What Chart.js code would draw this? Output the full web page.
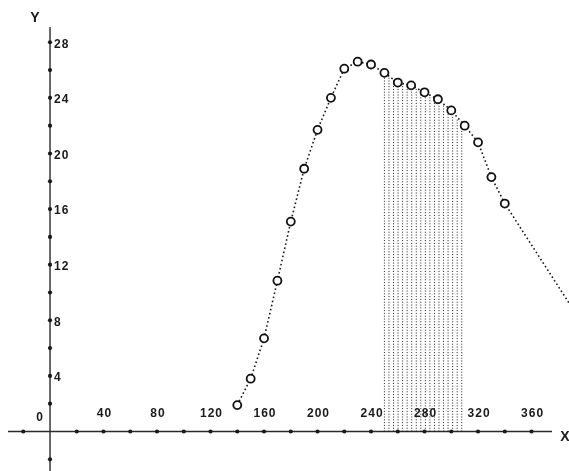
<!DOCTYPE html>
<html>
<head>
<meta charset="utf-8">
<script src="https://cdn.jsdelivr.net/npm/chart.js@4.4.1/dist/chart.umd.min.js"></script>
<style>
    html, body { margin: 0; padding: 0; background: #fff; overflow: hidden; }
    #wrap { width: 569px; height: 471px; position: relative; }
</style>
</head>
<body>
<div id="wrap"><canvas id="chart"></canvas></div>
<script>
// Measured points (x, y)
const xValues = [140, 150, 160, 170, 180, 190, 200, 210, 220, 230, 240, 250, 260, 270, 280, 290, 300, 310, 320, 330, 340];
const yValues = [1.9, 3.8, 6.7, 10.85, 15.1, 18.9, 21.7, 24.0, 26.1, 26.6, 26.4, 25.8, 25.1, 24.9, 24.4, 23.9, 23.1, 22.0, 20.8, 18.3, 16.4];

// Dotted curve running off the right edge
const tailX = [395];
const tailY = [8.2];

// Vertical hatch lines under the curve
const hatchX = [250, 253.4, 256.8, 260.2, 263.6, 267, 270.4, 273.8, 277.2, 280.6, 284, 287.4, 290.8, 294.2, 297.6, 301, 304.4, 307.8];
const hatchTop = [25.7, 25.5, 25.25, 25.1, 25.0, 24.9, 24.8, 24.65, 24.45, 24.3, 24.15, 23.95, 23.7, 23.45, 23.15, 22.8, 22.45, 22.1];

// Axis ticks and labels
const xTickDots = [-20, 20, 40, 60, 80, 100, 120, 140, 160, 180, 200, 220, 240, 260, 280, 300, 320, 340, 360];
const xTickLabels = [40, 80, 120, 160, 200, 240, 280, 320, 360];
const yTickDots = [-2, 2, 4, 6, 8, 10, 12, 14, 16, 18, 20, 22, 24, 26, 28];
const yTickLabels = [4, 8, 12, 16, 20, 24, 28];

const curveData = xValues.map((x, i) => ({ x: x, y: yValues[i] }))
    .concat(tailX.map((x, i) => ({ x: x, y: tailY[i] })));
const markerData = xValues.map((x, i) => ({ x: x, y: yValues[i] }));

const hatchData = [];
hatchX.forEach((x, i) => {
    hatchData.push({ x: x, y: 0 });
    hatchData.push({ x: x, y: hatchTop[i] });
    hatchData.push({ x: x, y: null });
});

// Draws the crossing axes, their dots and labels
const axesPlugin = {
    id: 'axesPlugin',
    beforeDatasetsDraw(chart) {
        const { ctx } = chart;
        const xs = chart.scales.x;
        const ys = chart.scales.y;
        const x0 = xs.getPixelForValue(0);
        const y0 = ys.getPixelForValue(0);

        ctx.save();
        ctx.strokeStyle = '#2a2a2a';
        ctx.lineWidth = 1.4;
        ctx.beginPath();
        ctx.moveTo(8, y0);
        ctx.lineTo(552, y0);
        ctx.moveTo(x0, 27);
        ctx.lineTo(x0, chart.height);
        ctx.stroke();

        ctx.fillStyle = '#1a1a1a';
        xTickDots.forEach(v => {
            ctx.beginPath();
            ctx.arc(xs.getPixelForValue(v), y0, 2.1, 0, Math.PI * 2);
            ctx.fill();
        });
        yTickDots.forEach(v => {
            ctx.beginPath();
            ctx.arc(x0, ys.getPixelForValue(v), 2.1, 0, Math.PI * 2);
            ctx.fill();
        });

        ctx.font = 'bold 12px "Liberation Sans", Arial, sans-serif';
        ctx.letterSpacing = '1px';
        ctx.textBaseline = 'middle';
        ctx.textAlign = 'center';
        xTickLabels.forEach(v => {
            ctx.fillText(String(v), xs.getPixelForValue(v) + 1, y0 - 18);
        });
        ctx.fillText('0', x0 - 10, y0 - 14);
        ctx.textAlign = 'left';
        yTickLabels.forEach(v => {
            ctx.fillText(String(v), x0 + 4, ys.getPixelForValue(v) + 2);
        });

        ctx.letterSpacing = '0px';
        ctx.font = 'bold 14px "Liberation Sans", Arial, sans-serif';
        ctx.textAlign = 'center';
        ctx.fillText('Y', 35, 18);
        ctx.fillText('X', 565, 437);
        ctx.restore();
    }
};

new Chart(document.getElementById('chart'), {
    type: 'line',
    data: {
        datasets: [
            {
                label: 'points',
                data: markerData,
                order: 0,
                showLine: false,
                pointRadius: 4,
                pointBorderWidth: 1.8,
                pointBackgroundColor: '#ffffff',
                pointBorderColor: '#111111'
            },
            {
                label: 'curve',
                data: curveData,
                order: 1,
                borderColor: '#1a1a1a',
                borderWidth: 1.6,
                borderDash: [1.6, 2.6],
                pointRadius: 0,
                tension: 0
            },
            {
                label: 'hatch',
                data: hatchData,
                order: 2,
                borderColor: '#1e1e1e',
                borderWidth: 1,
                borderDash: [1, 1.8],
                pointRadius: 0,
                spanGaps: false,
                tension: 0
            }
        ]
    },
    options: {
        responsive: true,
        maintainAspectRatio: false,
        animation: false,
        layout: { padding: 0, autoPadding: false },
        plugins: {
            legend: { display: false },
            tooltip: { enabled: false }
        },
        scales: {
            x: { type: 'linear', display: false, min: -37.4, max: 388 },
            y: { type: 'linear', display: false, min: -2.84, max: 31.04 }
        }
    },
    plugins: [axesPlugin]
});
</script>
</body>
</html>
